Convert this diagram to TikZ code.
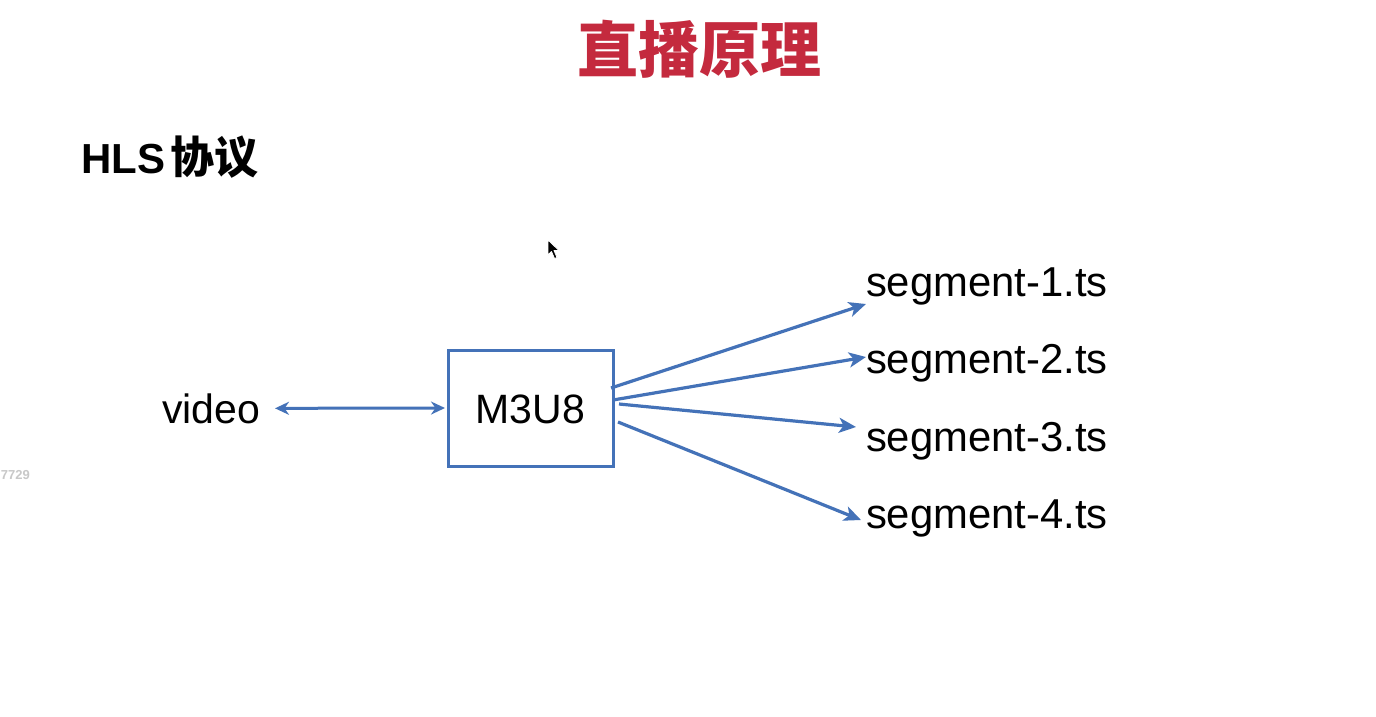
\documentclass[tikz,border=0pt]{standalone}
\usepackage{fontspec}
\setmainfont{Liberation Sans}
\newfontfamily\cjk{Noto Sans CJK SC}
\usetikzlibrary{arrows.meta,calc}
\definecolor{lineblue}{RGB}{68,114,184}
\definecolor{titlered}{RGB}{196,42,62}
\definecolor{faintgray}{RGB}{200,200,200}
\tikzset{
  lbl/.style={inner sep=0pt,outer sep=0pt,font=\fontsize{41}{41}\selectfont},
  seglbl/.style={inner sep=0pt,outer sep=0pt,font=\fontsize{41.8}{42}\selectfont},
  boxnode/.style={draw=lineblue,line width=3pt,minimum width=165pt,minimum height=116pt,inner sep=0pt,outer sep=0pt,font=\fontsize{41}{41}\selectfont},
  conn/.style={draw=lineblue,line width=3.2pt,-{Stealth[length=17pt,width=15pt,inset=4.5pt]}},
  biconn/.style={draw=lineblue,line width=3pt,{Stealth[length=14pt,width=13pt,inset=4.5pt]}-{Stealth[length=14pt,width=13pt,inset=4.5pt]}},
}
\begin{document}
\begin{tikzpicture}[x=1pt,y=-1pt]
\useasboundingbox[fill=white] (0,0) rectangle (1376,716);
% title
\node[inner sep=0pt,anchor=base,text=titlered,font=\fontsize{61}{61}\selectfont\cjk\bfseries] (title) at (699,72) {直播原理};
% subtitle
\node[inner sep=0pt,anchor=base west,font=\fontsize{42}{42}\selectfont\bfseries] (hls) at (81,173) {HLS\hspace{5pt}{\fontsize{44}{44}\selectfont\cjk\bfseries 协议}};
% side faint text
\node[inner sep=0pt,anchor=base east,text=faintgray,font=\fontsize{13}{13}\selectfont\bfseries] (num) at (30,479) {7729};
% cursor
\filldraw[fill=black,draw=white,line width=0.8pt,line join=round] (548,240) -- (548,255) -- (551.5,251.5) -- (554.5,258.5) -- (557,257.5) -- (554,250.5) -- (559,250.5) -- cycle;
% nodes
\node[lbl,anchor=base west] (video) at (162,423) {video};
\node[boxnode] (m3u8) at (530.5,408) {};
\node[lbl,anchor=base] (m3u8t) at (530.5,423) {M3U8};
\node[seglbl,anchor=base west] (s1) at (866,296) {segment-1.ts};
\node[seglbl,anchor=base west] (s2) at (866,373.5) {segment-2.ts};
\node[seglbl,anchor=base west] (s3) at (866,451) {segment-3.ts};
\node[seglbl,anchor=base west] (s4) at (866,528.5) {segment-4.ts};
% connector end points
\coordinate (a1) at ($(m3u8.east)+(-2,-20)$);
\coordinate (a2) at ($(m3u8.east)+(0,-8)$);
\coordinate (a3) at ($(m3u8.east)+(6,-4)$);
\coordinate (a4) at ($(m3u8.east)+(5,14)$);
\coordinate (b1) at ($(s1.base west)+(0,8)$);
\coordinate (b2) at ($(s2.base west)+(0,-16.5)$);
\coordinate (b3) at ($(s3.base west)+(-10,-24)$);
\coordinate (b4) at ($(s4.base west)+(-5,-8.5)$);
% connectors
\draw[biconn,shorten <=15pt,shorten >=3pt] (video.east) -- (m3u8.west);
\draw[conn] (a1) -- (b1);
\draw[conn] (a2) -- (b2);
\draw[conn] (a3) -- (b3);
\draw[conn] (a4) -- (b4);
\end{tikzpicture}
\end{document}
